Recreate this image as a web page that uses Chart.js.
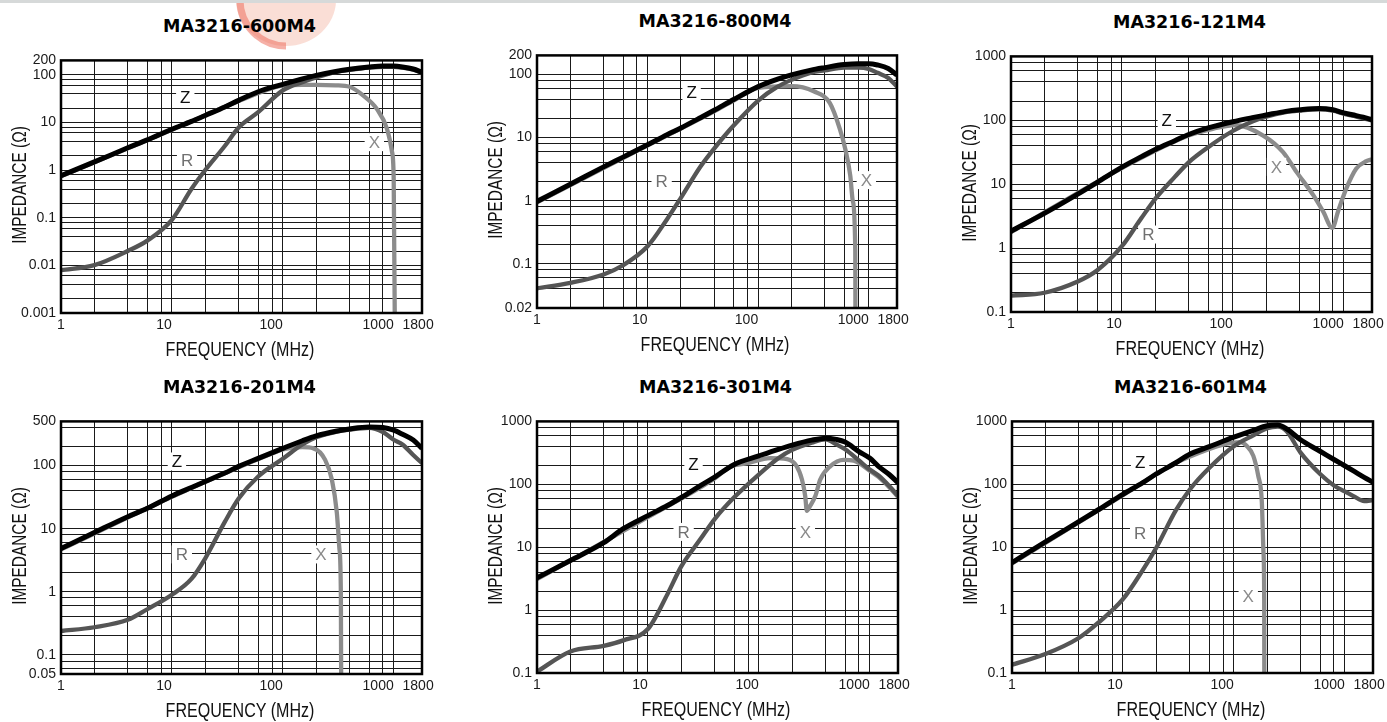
<!DOCTYPE html>
<html>
<head>
<meta charset="utf-8">
<title>MA3216 impedance vs frequency</title>
<script src="https://cdn.jsdelivr.net/npm/chart.js@4.4.1/dist/chart.umd.min.js"></script>
<style>
  html, body { margin: 0; padding: 0; background: #fff; }
  body { width: 1387px; height: 722px; position: relative; overflow: hidden; font-family: 'Liberation Sans', Arial, sans-serif; }
  .topbar { position: absolute; left: 0; top: 0; width: 1387px; height: 3px; background: #d6d9d9; z-index: 2; }
  .mark { position: absolute; left: 0; top: 0; z-index: 0; }
  .panel { position: absolute; z-index: 1; }
  .panel canvas { display: block; }
  .title { position: absolute; z-index: 3; transform: translate(-50%, -50%); font: bold 17.5px 'DejaVu Sans', sans-serif; line-height: 1; white-space: nowrap; color: #000; }
  .xtitle { position: absolute; z-index: 3; transform: translate(-50%, -50%) scaleX(0.765); font: 21px 'Liberation Sans', Arial, sans-serif; line-height: 1; white-space: nowrap; color: #111; }
  .ytitle { position: absolute; z-index: 3; transform: translate(-50%, -50%) rotate(-90deg) scaleX(0.77); font: 20px 'Liberation Sans', Arial, sans-serif; line-height: 1; white-space: nowrap; color: #111; }
</style>
</head>
<body>
<div class="topbar"></div>
<svg class="mark" width="400" height="60">
  <ellipse cx="286" cy="0" rx="50" ry="46" fill="#f9d6cc" opacity="0.8"/>
  <path d="M 240 0 A 46 46 0 0 0 286 46" fill="none" stroke="#ec6f5f" stroke-width="7" opacity="0.55"/>
</svg>
<script>
// frequency axis (MHz)
const freqLabels = [1, 10, 100, 1000, 1800];
const gridMantissa = [1, 2, 4, 6, 8];

// MA3216-600M4
const f600 = [1, 2, 4, 6, 10, 15, 20, 30, 40, 60, 100, 150, 200, 300, 400, 600, 800, 1000, 1200, 1500, 1800];
const z600 = [0.76, 1.48, 2.93, 4.3, 7.2, 10.5, 14, 21, 29, 44, 63, 82, 97, 117, 130, 145, 152, 152, 146, 132, 113];
const r600 = [0.0079, 0.0101, 0.02, 0.033, 0.09, 0.4, 1.0, 3.2, 7.8, 16.4, 47, 70, 88, 114, 126, 141, 147, 147, 141, 128, 110];
const fx600 = [1, 10, 40, 80, 100, 150, 200, 300, 400, 536, 707, 870, 966, 1000, 1035];
const x600 = [0.74, 7.0, 28, 52, 59, 61, 61, 60, 56, 36, 19, 7.3, 2.4, 0.67, 0.00001];
const yLab600 = [0.001, 0.01, 0.1, 1, 10, 100, 200];

// MA3216-800M4
const f800 = [1, 2, 4, 6, 10, 15, 20, 30, 40, 60, 100, 150, 200, 300, 400, 600, 800, 1000, 1200, 1500, 1800];
const z800 = [0.975, 1.82, 3.43, 4.9, 7.7, 11.1, 14.2, 20.6, 27, 40, 64, 84, 98, 117, 128, 143, 148, 148, 141, 124, 98];
const r800 = [0.041, 0.05, 0.068, 0.095, 0.19, 0.51, 1.11, 3.45, 6.7, 15.5, 38.6, 64, 82, 107, 116, 128, 128, 122, 106, 88, 64];
const fx800 = [1, 10, 40, 60, 100, 200, 318, 445, 548, 613, 680, 718, 755, 765];
const x800 = [0.94, 7.5, 26, 38.5, 61, 65, 54, 35, 13.6, 6.6, 2.5, 0.98, 0.16, 0.00001];
const yLab800 = [0.02, 0.1, 1, 10, 100, 200];

// MA3216-121M4
const f121 = [1, 2, 4, 6, 10, 15, 20, 30, 40, 60, 100, 150, 200, 300, 400, 600, 800, 1000, 1200, 1500, 1800];
const z121 = [1.84, 3.5, 7.0, 10.7, 18.5, 27, 35, 48, 60, 76, 95, 110, 121, 138, 146, 153, 146, 131, 122, 112, 102];
const r121 = [0.18, 0.2, 0.3, 0.45, 1.07, 2.95, 5.9, 13, 22, 38, 68, 96, 114, 134, 142, 149, 142, 127, 118, 108, 99];
const fx121 = [1, 10, 40, 67, 105, 188, 284, 375, 530, 652, 791, 889, 1057, 1300, 1600, 1800];
const x121 = [1.78, 17.9, 58, 74, 84.4, 57.7, 31.8, 15.6, 6.8, 3.75, 2.07, 3.75, 8.6, 17.6, 22.9, 24.5];
const yLab121 = [0.1, 1, 10, 100, 1000];

// MA3216-201M4
const f201 = [1, 2, 4, 6, 10, 15, 20, 30, 40, 60, 100, 150, 200, 300, 400, 600, 800, 1000, 1200, 1500, 1800];
const z201 = [4.85, 8.7, 15.5, 21, 33, 45, 56, 76, 97, 130, 187, 247, 295, 349, 380, 408, 400, 363, 313, 253, 187];
const r201 = [0.24, 0.275, 0.36, 0.53, 0.9, 1.6, 3.4, 12.8, 30, 67, 128, 215, 280, 340, 370, 396, 340, 256, 216, 147, 109];
const fx201 = [1, 10, 40, 80, 100, 150, 189, 241, 277, 307, 324, 334, 341];
const x201 = [4.7, 32, 94, 155, 180, 195, 187, 123, 60, 18, 4.85, 0.91, 0.00001];
const yLab201 = [0.05, 0.1, 1, 10, 100, 500];

// MA3216-301M4
const f301 = [1, 2, 4, 6, 10, 15, 20, 30, 40, 60, 100, 150, 200, 300, 400, 500, 600, 800, 1000, 1200, 1500, 1800];
const z301 = [3.25, 6.15, 11.8, 19.7, 31.8, 46, 61.7, 96, 130, 207, 283, 360, 421, 504, 542, 517, 469, 331, 261, 193, 143, 106];
const r301 = [0.105, 0.22, 0.27, 0.33, 0.5, 1.79, 4.95, 13.7, 28, 62, 143, 260, 352, 458, 520, 430, 360, 239, 172, 138, 94, 65.5];
const fx301 = [1, 10, 40, 55.3, 78.5, 127, 180, 220, 245, 262, 271, 291, 324, 358, 440, 581, 718, 1000, 1200, 1500, 1800];
const x301 = [3.1, 30, 124, 190, 217, 261, 251, 193, 119, 65.5, 38, 45.7, 65.5, 119, 193, 245, 238, 165, 131, 90, 63];
const yLab301 = [0.1, 1, 10, 100, 1000];

// MA3216-601M4
const f601 = [1, 2, 4, 6, 10, 15, 20, 30, 40, 60, 100, 150, 200, 250, 300, 400, 600, 800, 1000, 1200, 1500, 1800];
const z601 = [5.69, 12.1, 25.5, 39.4, 69.3, 105, 146, 220, 301, 396, 561, 723, 855, 876, 758, 510, 335, 248, 197, 163, 129, 108];
const r601 = [0.135, 0.2, 0.36, 0.63, 1.49, 4.24, 9.8, 38.5, 82, 181, 402, 600, 780, 830, 697, 319, 146, 96, 77, 65, 54, 56];
const fx601 = [1, 10, 28.5, 49.6, 75.3, 99.3, 114, 131, 150, 166, 179, 185, 188, 190];
const x601 = [5.5, 67, 209, 319, 416, 458, 469, 406, 283, 137, 52.6, 8.65, 1.43, 0.00001];
const yLab601 = [0.1, 1, 10, 100, 1000];

// plot boxes on the page [left, top, right, bottom] and curve tag spots (MHz, ohm)
const panels = [
  { title: 'MA3216-600M4', f: f600, z: z600, r: r600, fx: fx600, x: x600, yLab: yLab600,
    box: [61, 57, 422, 313], tags: { Z: [13.2, 33], R: [13.7, 1.6], X: [669, 3.85] } },
  { title: 'MA3216-800M4', f: f800, z: z800, r: r800, fx: fx800, x: x800, yLab: yLab800,
    box: [537, 52, 897, 308], tags: { Z: [25, 51.8], R: [13.4, 2.0], X: [951, 2.12] } },
  { title: 'MA3216-121M4', f: f121, z: z121, r: r121, fx: fx121, x: x121, yLab: yLab121,
    box: [1011, 53, 1372, 312], tags: { Z: [25.4, 98.6], R: [17.3, 1.63], X: [248, 18.7] } },
  { title: 'MA3216-201M4', f: f201, z: z201, r: r201, fx: fx201, x: x201, yLab: yLab201,
    box: [61, 418, 422, 674], tags: { Z: [11.1, 116], R: [12.3, 3.91], X: [221, 3.91] } },
  { title: 'MA3216-301M4', f: f301, z: z301, r: r301, fx: fx301, x: x301, yLab: yLab301,
    box: [537, 418, 898, 673], tags: { Z: [25.8, 205], R: [21, 17.5], X: [263, 17.5] } },
  { title: 'MA3216-601M4', f: f601, z: z601, r: r601, fx: fx601, x: x601, yLab: yLab601,
    box: [1012, 418, 1373, 673], tags: { Z: [14.3, 223], R: [14.3, 16.4], X: [135, 1.68] } }
];

const tagColors = { Z: '#111', R: '#707070', X: '#8a8a8a' };

function gridValues(min, max) {
  const out = [min];
  for (let e = Math.floor(Math.log10(min)); e <= Math.ceil(Math.log10(max)); e++) {
    for (const m of gridMantissa) {
      const v = +(m * Math.pow(10, e)).toPrecision(6);
      if (v > min * 1.0001 && v < max * 0.9999) out.push(v);
    }
  }
  out.push(max);
  return out;
}

function same(a, b) { return Math.abs(a - b) <= Math.abs(b) * 1e-6; }

function xLabel(v) {
  if (!freqLabels.some(l => same(v, l))) return '';
  const s = String(Math.round(v));
  if (s === '1') return s;
  if (s === '1800') return s + '  ';
  return s + ' '.repeat(2 * s.length);   // sits left of its grid line, as in the print
}

const tagPlugin = {
  id: 'tags',
  afterDatasetsDraw(chart, args, opts) {
    const { ctx, scales } = chart;
    ctx.save();
    ctx.font = '17px "Liberation Sans", Arial, sans-serif';
    ctx.textAlign = 'center';
    ctx.textBaseline = 'middle';
    Object.entries(opts.items || {}).forEach(([name, at]) => {
      const px = scales.x.getPixelForValue(at[0]);
      const py = scales.y.getPixelForValue(at[1]);
      const w = ctx.measureText(name).width + 8;
      ctx.fillStyle = '#fff';
      ctx.fillRect(px - w / 2, py - 9, w, 18);
      ctx.fillStyle = tagColors[name];
      ctx.fillText(name, px, py + 1);
    });
    ctx.restore();
  }
};

const framePlugin = {
  id: 'frame',
  afterDatasetsDraw(chart) {
    const { ctx, chartArea: a } = chart;
    ctx.save();
    ctx.lineWidth = 2.5;
    ctx.strokeStyle = '#000';
    ctx.strokeRect(a.left, a.top, a.right - a.left, a.bottom - a.top);
    ctx.restore();
  }
};

function addText(cls, text, x, y) {
  const d = document.createElement('div');
  d.className = cls;
  d.textContent = text;
  d.style.left = x + 'px';
  d.style.top = y + 'px';
  document.body.appendChild(d);
}

function series(xs, ys) {
  return xs.map((v, i) => ({ x: v, y: ys[i] }));
}

const padL = 48, padT = 10, padR = 26, padB = 26;

panels.forEach(p => {
  const [L, T, R, B] = p.box;
  const yMin = p.yLab[0], yMax = p.yLab[p.yLab.length - 1];
  const wrap = document.createElement('div');
  wrap.className = 'panel';
  wrap.style.left = (L - padL) + 'px';
  wrap.style.top = (T - padT) + 'px';
  wrap.style.width = (R - L + padL + padR) + 'px';
  wrap.style.height = (B - T + padT + padB) + 'px';
  const canvas = document.createElement('canvas');
  wrap.appendChild(canvas);
  document.body.appendChild(wrap);

  addText('title', p.title, (L + R) / 2 - 2, T - 30);
  addText('xtitle', 'FREQUENCY (MHz)', (L + R) / 2 - 2, B + 34.5);
  addText('ytitle', 'IMPEDANCE (\u03A9)', L - 42, (T + B) / 2);

  const xTicks = gridValues(1, 1800);
  const yTicks = gridValues(yMin, yMax);

  new Chart(canvas, {
    type: 'line',
    data: {
      datasets: [
        { label: 'Z', data: series(p.f, p.z), borderColor: '#000', borderWidth: 5 },
        { label: 'R', data: series(p.f, p.r), borderColor: '#555', borderWidth: 4.3 },
        { label: 'X', data: series(p.fx, p.x), borderColor: '#8c8c8c', borderWidth: 4.3 }
      ]
    },
    options: {
      responsive: true,
      maintainAspectRatio: false,
      animation: false,
      events: [],
      layout: { padding: { left: 0, top: padT, right: padR, bottom: 0 } },
      datasets: {
        line: { pointRadius: 0, cubicInterpolationMode: 'monotone', borderJoinStyle: 'round', clip: 0, fill: false }
      },
      scales: {
        x: {
          type: 'logarithmic',
          min: 1,
          max: 1800,
          afterBuildTicks: s => { s.ticks = xTicks.map(v => ({ value: v })); },
          afterFit: s => { s.height = padB; },
          ticks: {
            autoSkip: false, maxRotation: 0, minRotation: 0, padding: 4,
            color: '#1a1a1a', font: { family: "'Liberation Sans', Arial, sans-serif", size: 14 },
            callback: v => xLabel(v)
          },
          grid: { color: '#1a1a1a', lineWidth: 1, drawTicks: false },
          border: { display: false }
        },
        y: {
          type: 'logarithmic',
          min: yMin,
          max: yMax,
          afterBuildTicks: s => { s.ticks = yTicks.map(v => ({ value: v })); },
          afterFit: s => { s.width = padL; },
          ticks: {
            autoSkip: false, padding: 5,
            color: '#1a1a1a', font: { family: "'Liberation Sans', Arial, sans-serif", size: 14 },
            callback: v => (p.yLab.some(l => same(v, l)) ? String(v) : '')
          },
          grid: { color: '#1a1a1a', lineWidth: 1, drawTicks: false },
          border: { display: false }
        }
      },
      plugins: {
        legend: { display: false },
        tooltip: { enabled: false },
        tags: { items: p.tags }
      }
    },
    plugins: [tagPlugin, framePlugin]
  });
});
</script>
</body>
</html>
